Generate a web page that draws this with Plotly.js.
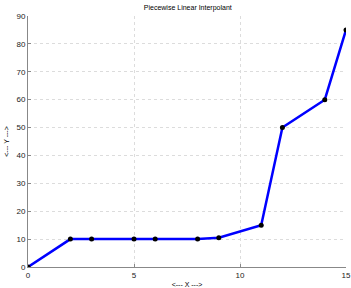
<!DOCTYPE html>
<html><head><meta charset="utf-8">
<script src="https://cdn.plot.ly/plotly-3.0.1.min.js"></script>
<style>html,body{margin:0;padding:0;background:#fff}#c{width:351px;height:288px}</style>
</head><body><div id="c"></div>
<script>
const xData = [0, 2, 3, 5, 6, 8, 9, 11, 12, 14, 15];
const yData = [0, 10, 10, 10, 10, 10, 10.5, 15, 50, 60, 85];
const xTicks = [0, 5, 10, 15];
const yTicks = [0, 10, 20, 30, 40, 50, 60, 70, 80, 90];

const traces = [
  {x: xData, y: yData, mode: 'lines', line: {color: '#0000ff', width: 2.5}, hoverinfo: 'skip'},
  {x: xData, y: yData, mode: 'markers', marker: {color: '#000', size: 5}, hoverinfo: 'skip'}
];
const axisCommon = {
  showline: true, linecolor: '#888', linewidth: 1,
  showgrid: true, gridcolor: '#dcdcdc', griddash: 'dot', gridwidth: 1,
  zeroline: false, ticks: 'inside', ticklen: 3, tickcolor: '#888',
  tickfont: {family: 'Liberation Sans, Arial, sans-serif', size: 8, color: '#222'}
};
const layout = {
  width: 351, height: 288,
  margin: {l: 28, r: 5, t: 16, b: 21},
  paper_bgcolor: '#fff', plot_bgcolor: '#fff',
  showlegend: false,
  title: {text: 'Piecewise Linear Interpolant', font: {family: 'Liberation Sans, Arial, sans-serif', size: 7, color: '#000'}, x: 0.535, xanchor: 'center', y: 0.975, yanchor: 'middle'},
  xaxis: Object.assign({}, axisCommon, {range: [0, 15], tickvals: xTicks, ticktext: xTicks.map(String),
    title: {text: '<--- X --->', font: {family: 'Liberation Sans, Arial, sans-serif', size: 7, color: '#000'}, standoff: 4}}),
  yaxis: Object.assign({}, axisCommon, {range: [0, 90], tickvals: yTicks, ticktext: yTicks.map(String),
    title: {text: '<--- Y --->', font: {family: 'Liberation Sans, Arial, sans-serif', size: 7, color: '#000'}, standoff: 6}})
};
Plotly.newPlot('c', traces, layout, {staticPlot: true, displayModeBar: false});
</script></body></html>
